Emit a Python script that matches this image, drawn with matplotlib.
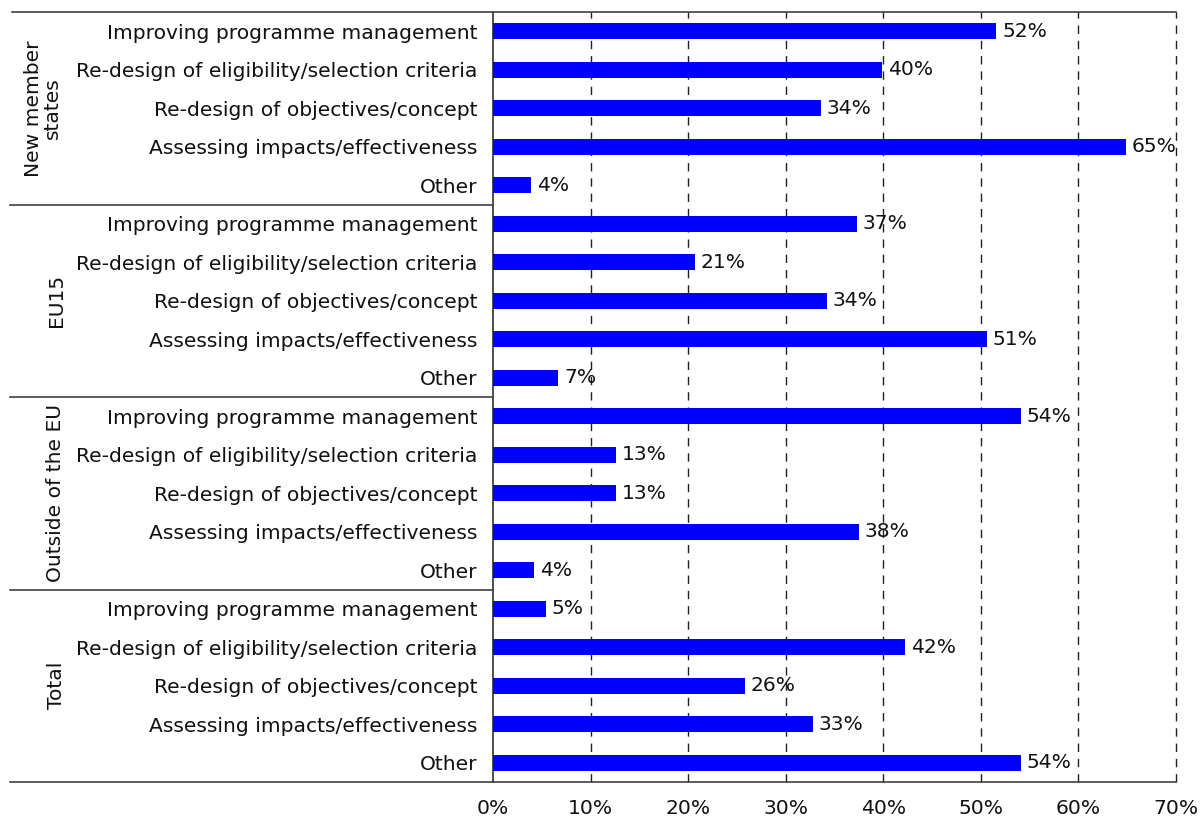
import matplotlib
matplotlib.use("Agg")
import matplotlib.pyplot as plt
from matplotlib.lines import Line2D

groups = ["New member\nstates", "EU15", "Outside of the EU", "Total"]
categories = ["Improving programme management",
              "Re-design of eligibility/selection criteria",
              "Re-design of objectives/concept",
              "Assessing impacts/effectiveness",
              "Other"]
nms = [51.6, 39.9, 33.6, 64.9, 3.9]
eu15 = [37.3, 20.7, 34.2, 50.6, 6.7]
outside = [54.1, 12.6, 12.6, 37.5, 4.2]
total = [5.4, 42.2, 25.8, 32.8, 54.1]
xticks = [0, 10, 20, 30, 40, 50, 60, 70]
xtick_labels = ["0%", "10%", "20%", "30%", "40%", "50%", "60%", "70%"]

series = [nms, eu15, outside, total]
labels = []
values = []
for s in series:
    labels += categories
    values += s
n = len(values)
ypos = list(range(n))

W, H = 1201, 819
fig = plt.figure(figsize=(W / 100, H / 100), dpi=100)
plt.rcParams['font.family'] = ['DejaVu Sans']
FS = 14.6

x0, x1 = 493, 1176
y0, y1 = 12, 782
ax = fig.add_axes([x0 / W, 1 - y1 / H, (x1 - x0) / W, (y1 - y0) / H])
ax.barh(ypos, values, height=0.42, color="#0000FF", zorder=3)
ax.set_xlim(0, 70)
ax.set_ylim(n - 0.5, -0.5)
for xv in xticks[1:]:
    ax.axvline(xv, color="#202020", lw=1, ls=(0, (6, 5)), zorder=1, clip_on=False)
for y, v in zip(ypos, values):
    ax.text(v + 0.6, y, f"{round(v):d}%", va="center", ha="left", fontsize=FS,
            color="#111111", zorder=4)

ax.set_yticks(ypos)
ax.set_yticklabels(labels, fontsize=FS, color="#111111")
ax.set_xticks(xticks)
ax.set_xticklabels(xtick_labels, fontsize=FS, color="#111111")
ax.tick_params(axis="y", length=0, pad=11)
ax.tick_params(axis="x", length=0, pad=12)
for sp in ["top", "right", "bottom"]:
    ax.spines[sp].set_visible(False)
ax.spines["left"].set_color("#303030")
ax.spines["left"].set_linewidth(1.2)

lc = "#404040"
def hline(xa, xb, yy):
    fig.add_artist(Line2D([xa / W, xb / W], [1 - yy / H, 1 - yy / H], color=lc, lw=1.2))

hline(12, x1, y0)
hline(10, x1, y1)
row_h = (y1 - y0) / n
for g in range(1, 4):
    hline(10, x0, y0 + g * 5 * row_h)

for g, name in enumerate(groups):
    yc = y0 + (g * 5 + 2.5) * row_h
    xc = 43 if "\n" in name else 56
    fig.text(xc / W, 1 - yc / H, name, rotation=90, ha="center", va="center",
             fontsize=FS, multialignment="center", linespacing=1.0, color="#111111")

fig.savefig("out.png", dpi=100)
